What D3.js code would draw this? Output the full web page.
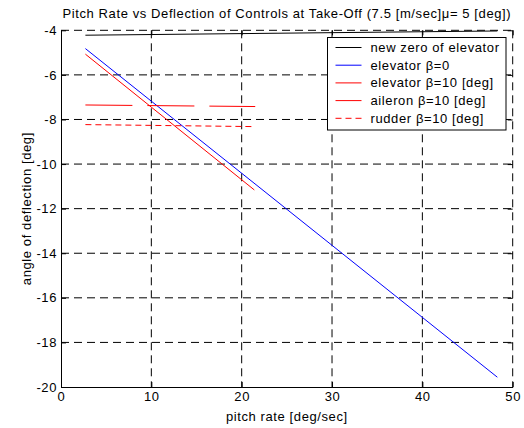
<!DOCTYPE html>
<html>
<head>
<meta charset="utf-8">
<script src="https://cdn.jsdelivr.net/npm/d3@7"></script>
<style>
  body { margin: 0; background: #fff; }
  svg { font-family: "Liberation Sans", Arial, sans-serif; }
  svg text { font-size: 13px; letter-spacing: 0.6px; fill: #000; }
</style>
</head>
<body>
<div id="chart"></div>
<script>
// series (x = pitch rate, y = deflection)
const zeroX = [2.7, 48.3];
const zeroY = [-4.22, -4.03];
const elev0X = [2.7, 48.3];
const elev0Y = [-4.82, -19.56];
const elev10X = [2.7, 21.4];
const elev10Y = [-5.07, -11.16];
const aileronX = [2.7, 21.5];
const aileronY = [-7.35, -7.42];
const rudderX = [2.7, 21.5];
const rudderY = [-8.23, -8.32];

const xTicks = [0, 10, 20, 30, 40, 50];
const yTicks = [-4, -6, -8, -10, -12, -14, -16, -18, -20];

const legendLabels = ['new zero of elevator', 'elevator \u03B2=0', 'elevator \u03B2=10 [deg]', 'aileron \u03B2=10 [deg]', 'rudder \u03B2=10 [deg]'];

const W = 524, H = 428;
const margin = {top: 30.3, right: 11.3, bottom: 41, left: 61};
const width = W - margin.left - margin.right;
const height = H - margin.top - margin.bottom;

const svg = d3.select('#chart').append('svg')
  .attr('width', W)
  .attr('height', H);

const g = svg.append('g')
  .attr('transform', `translate(${margin.left},${margin.top})`);

const x = d3.scaleLinear().domain([0, 50]).range([0, width]);
const y = d3.scaleLinear().domain([-20, -4]).range([height, 0]);

// grid (dashed) - includes top and right edges
g.append('g').selectAll('line')
  .data(xTicks.slice(1))
  .join('line')
    .attr('x1', d => x(d)).attr('x2', d => x(d))
    .attr('y1', 0).attr('y2', height)
    .attr('stroke', '#000').attr('stroke-width', 1)
    .attr('stroke-dasharray', '8,5');
g.append('g').selectAll('line')
  .data(yTicks.slice(0, -1))
  .join('line')
    .attr('x1', 0).attr('x2', width)
    .attr('y1', d => y(d)).attr('y2', d => y(d))
    .attr('stroke', '#000').attr('stroke-width', 1)
    .attr('stroke-dasharray', '8,5');

// axes
const fmt = d => String(d);
const xAxis = g.append('g')
  .attr('transform', `translate(0,${height})`)
  .call(d3.axisBottom(x).tickValues(xTicks).tickFormat(fmt).tickSizeInner(-5).tickSizeOuter(0).tickPadding(5));
const yAxis = g.append('g')
  .call(d3.axisLeft(y).tickValues(yTicks).tickFormat(fmt).tickSizeInner(-5).tickSizeOuter(0).tickPadding(4));
// top / right ticks
g.append('g')
  .call(d3.axisTop(x).tickValues(xTicks).tickSizeInner(-5).tickSizeOuter(0).tickFormat(''))
  .select('.domain').remove();
g.append('g')
  .attr('transform', `translate(${width},0)`)
  .call(d3.axisRight(y).tickValues(yTicks).tickSizeInner(-5).tickSizeOuter(0).tickFormat(''))
  .select('.domain').remove();

[xAxis, yAxis].forEach(a => {
  a.selectAll('text').attr('font-size', null).attr('font-family', null);
  a.select('.domain').attr('stroke', '#000');
});
xAxis.attr('font-size', null).attr('font-family', null);
yAxis.attr('font-size', null).attr('font-family', null);

// lines
const line = d3.line().x(d => x(d[0])).y(d => y(d[1]));
const series = [
  {xs: zeroX, ys: zeroY, color: '#000', dash: null},
  {xs: elev0X, ys: elev0Y, color: '#0000ff', dash: null},
  {xs: elev10X, ys: elev10Y, color: '#ff0000', dash: null},
  {xs: aileronX, ys: aileronY, color: '#ff0000', dash: '47,15'},
  {xs: rudderX, ys: rudderY, color: '#ff0000', dash: '6,4'}
];
g.selectAll('.series')
  .data(series)
  .join('path')
    .attr('class', 'series')
    .attr('d', s => line(s.xs.map((v, i) => [v, s.ys[i]])))
    .attr('fill', 'none')
    .attr('stroke', s => s.color)
    .attr('stroke-width', 1)
    .attr('stroke-dasharray', s => s.dash);

// legend
const legend = svg.append('g').attr('transform', 'translate(327.5,37.5)');
legend.append('rect')
  .attr('width', 178.5).attr('height', 92.5)
  .attr('fill', '#fff').attr('stroke', '#000');
const rows = legend.selectAll('.row')
  .data(legendLabels)
  .join('g')
    .attr('class', 'row')
    .attr('transform', (d, i) => `translate(0,${10 + i * 17.7})`);
rows.append('line')
  .attr('x1', 8).attr('x2', 34)
  .attr('stroke', (d, i) => series[i].color)
  .attr('stroke-dasharray', (d, i) => i === 4 ? '6,4' : null);
rows.append('text')
  .attr('x', 43).attr('dy', '0.35em')
  .text(d => d);

// title and axis labels
svg.append('text')
  .attr('x', margin.left + width / 2).attr('y', 18)
  .attr('text-anchor', 'middle')
  .text('Pitch Rate vs Deflection of Controls at Take-Off (7.5 [m/sec]\u03BC= 5 [deg])');
svg.append('text')
  .attr('x', margin.left + width / 2).attr('y', 421)
  .attr('text-anchor', 'middle')
  .text('pitch rate [deg/sec]');
svg.append('text')
  .attr('transform', `translate(30.5,${margin.top + height / 2}) rotate(-90)`)
  .attr('text-anchor', 'middle')
  .text('angle of deflection [deg]');
</script>
</body>
</html>
